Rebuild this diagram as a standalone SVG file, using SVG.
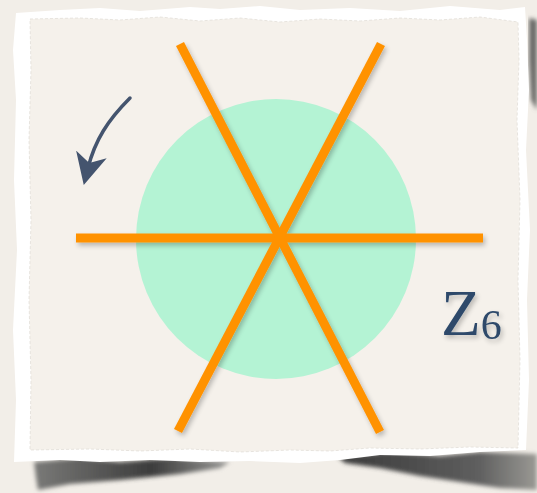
<svg xmlns="http://www.w3.org/2000/svg" width="537" height="493" viewBox="0 0 537 493">
<defs>
<style>
.axis{stroke:#ff9200;stroke-width:9;stroke-linecap:butt;fill:none}
</style>
<filter id="sh" x="-20%" y="-20%" width="140%" height="140%">
<feGaussianBlur in="SourceAlpha" stdDeviation="2.5"/>
<feOffset dx="2" dy="3" result="b"/>
<feComponentTransfer><feFuncA type="linear" slope="0.25"/></feComponentTransfer>
<feMerge><feMergeNode/><feMergeNode in="SourceGraphic"/></feMerge>
</filter>
<filter id="blur"><feGaussianBlur stdDeviation="2"/></filter>
<linearGradient id="shgL" x1="0" x2="1" y1="0" y2="0">
<stop offset="0" stop-color="#7a7a78"/><stop offset="0.6" stop-color="#3c3c3c"/><stop offset="1" stop-color="#9a9a98"/>
</linearGradient>
<linearGradient id="shgR" x1="0" x2="1" y1="0" y2="0">
<stop offset="0" stop-color="#3a3a3a"/><stop offset="0.7" stop-color="#5e5e5e"/><stop offset="1" stop-color="#9a9994"/>
</linearGradient>
<marker id="ah" markerWidth="9" markerHeight="9" refX="4" refY="4.5" orient="auto" markerUnits="strokeWidth">
<path d="M0,0 L9,4.5 L0,9 L2.5,4.5 Z" fill="#44546e"/>
</marker>
</defs>
<rect width="537" height="493" fill="#f2eee8"/>
<path d="M34,462 L80,458 L120,462 L170,458 L230,462 L220,468 L180,474 L120,480 L70,484 L38,490 L36,478 Z" fill="url(#shgL)" filter="url(#blur)"/>
<path d="M338,457 L390,452 L440,456 L480,452 L537,454 L537,490 L500,488 L460,482 L420,476 L380,468 L345,463 Z" fill="url(#shgR)" filter="url(#blur)"/>
<path d="M529,18 L537,20 L537,110 L531,100 L529,60 Z" fill="#6a6a68" filter="url(#blur)"/>
<path d="M16,13 L60,10 L100,8 L140,11 L190,7 L220,9 L260,6 L300,10 L350,8 L400,11 L450,6 L500,10 L525,7 L527,40 L529,90 L526,150 L530,230 L527,300 L529,380 L526,450 L480,452 L430,456 L380,455 L340,460 L300,463 L250,461 L200,462 L150,460 L100,462 L60,460 L14,462 L16,400 L13,330 L17,250 L14,180 L16,100 L13,50 Z" fill="#ffffff"/>
<path d="M30,19 L80,18 L120,20 L160,17 L200,21 L240,18 L280,22 L320,19 L360,21 L400,18 L440,20 L480,17 L518,22 L519,60 L517,120 L520,200 L518,280 L520,360 L518,448 L470,447 L420,449 L370,448 L330,451 L290,450 L240,452 L190,449 L140,451 L90,449 L30,450 L31,380 L29,300 L31,220 L29,140 L31,70 Z" fill="#f5f1eb" stroke="#e2ded8" stroke-width="0.8" stroke-dasharray="3 2"/>
<g id="disc"><circle cx="276" cy="239" r="140" fill="#b4f3d4"/></g>
<g id="connectors" filter="url(#sh)">
<line class="axis" x1="76" y1="238" x2="483" y2="238"/>
<line class="axis" x1="180" y1="44" x2="380" y2="432"/>
<line class="axis" x1="381" y1="44" x2="178" y2="431"/>
</g>
<g id="arrow">
<path d="M130,98 C108,120 95,140 88,168" fill="none" stroke="#44546e" stroke-width="3.5" stroke-linecap="round" marker-end="url(#ah)"/>
</g>
<g id="label" filter="url(#sh)">
<text x="441" y="335" font-family="Liberation Serif, Times New Roman, serif" font-size="65" fill="#2e4a6b">Z<tspan font-size="42" dy="4">6</tspan></text>
</g>
</svg>
